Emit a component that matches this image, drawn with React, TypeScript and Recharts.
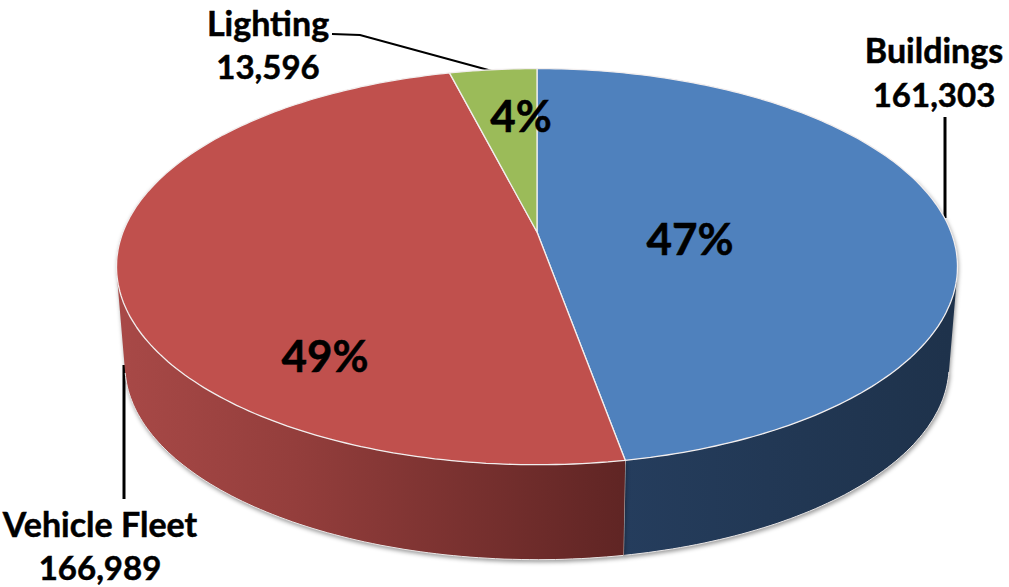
import { PieChart, Pie, Cell } from "recharts";

const CATEGORIES = ["Buildings", "Vehicle Fleet", "Lighting"];
const VALUES = [161303, 166989, 13596];
const TOP_COLORS = ["#4f81bd", "#c0504d", "#9bbb59"];
const SIDE_GRADIENTS = ["sideBlue", "sideRed", "sideGreen"];

// label placement, centre of the text
const NAME_POS = [
  { x: 934, y: 49, vy: 94 },
  { x: 100, y: 523, vy: 567 },
  { x: 268, y: 22, vy: 66 },
];
const PCT_POS = [
  { x: 690, y: 238 },
  { x: 325, y: 355 },
  { x: 521, y: 115 },
];

// tilted-disc projection
const RADIUS = 414;
const PERSPECTIVE = 0.175;
const FLATTEN = 192 / RADIUS;
const BOTTOM_SCALE = 0.98;
const DEPTH = 99.6;
const FONT = "Lato, sans-serif";

const data = CATEGORIES.map((name, i) => ({ name, value: VALUES[i] }));

function project(cx: number, cy: number, r: number, deg: number, scale = 1, drop = 0) {
  const t = (deg * Math.PI) / 180;
  const u = Math.sin(t);
  const v = -Math.cos(t);
  const w = 1 - PERSPECTIVE * v;
  return [cx + (scale * r * u) / w, cy + drop + (scale * r * FLATTEN * v) / w];
}

function angles(from: number, to: number) {
  const steps = Math.max(2, Math.ceil(Math.abs(to - from)));
  const out: number[] = [];
  for (let i = 0; i <= steps; i++) out.push(from + ((to - from) * i) / steps);
  return out;
}

const fmt = (p: number[]) => `${p[0].toFixed(1)} ${p[1].toFixed(1)}`;
const depthOf = (a: number) => -Math.cos((a * Math.PI) / 180);

function TopSlice(props: any) {
  const { cx, cy, outerRadius, startAngle, endAngle, fill } = props;
  const pts = angles(90 - startAngle, 90 - endAngle).map((a) => fmt(project(cx, cy, outerRadius, a)));
  return (
    <path
      d={`M${cx} ${cy}L${pts.join("L")}Z`}
      fill={fill}
      stroke="#f2eeee"
      strokeWidth={1.3}
      strokeLinejoin="round"
    />
  );
}

function SideSlice(props: any) {
  const { cx, cy, outerRadius, startAngle, endAngle, fill } = props;
  // only the front of the wall shows, the disc hides the rest
  const list = angles(90 - startAngle, 90 - endAngle).filter((a) => depthOf(a) > -0.3);
  if (list.length < 2) return <g />;
  let quads = "";
  for (let i = 0; i < list.length - 1; i++) {
    let q = [
      project(cx, cy, outerRadius, list[i]),
      project(cx, cy, outerRadius, list[i + 1]),
      project(cx, cy, outerRadius, list[i + 1], BOTTOM_SCALE, DEPTH),
      project(cx, cy, outerRadius, list[i], BOTTOM_SCALE, DEPTH),
    ];
    let area = 0;
    q.forEach((p, j) => {
      const n = q[(j + 1) % 4];
      area += p[0] * n[1] - n[0] * p[1];
    });
    if (area < 0) q = q.reverse();
    quads += `M${q.map(fmt).join("L")}Z`;
  }
  const edge = list
    .filter((a) => depthOf(a) > 0.2)
    .map((a) => fmt(project(cx, cy, outerRadius, a, BOTTOM_SCALE, DEPTH)));
  const last = list[list.length - 1];
  const seam = [fmt(project(cx, cy, outerRadius, last)), fmt(project(cx, cy, outerRadius, last, BOTTOM_SCALE, DEPTH))];
  return (
    <g style={{ filter: "drop-shadow(1px 2px 2px rgba(0,0,0,0.4))" }}>
      <path d={quads} fill={fill} />
      <path d={`M${edge.join("L")}`} fill="none" stroke="#e9e6e6" strokeWidth={1} />
      {depthOf(last) > 0 && <path d={`M${seam.join("L")}`} fill="none" stroke="#e9e6e6" strokeWidth={1.2} />}
    </g>
  );
}

function renderLabel(props: any) {
  const { index, name, value, percent } = props;
  const pos = NAME_POS[index];
  const pct = PCT_POS[index];
  return (
    <g key={name} fontFamily={FONT} fontWeight={700} fill="#000" stroke="#000" strokeWidth={0.5}>
      <text x={pos.x} y={pos.y} fontSize={34} dominantBaseline="central" textAnchor="middle">
        {name}
      </text>
      <text x={pos.x} y={pos.vy} fontSize={33} dominantBaseline="central" textAnchor="middle">
        {value.toLocaleString("en-US")}
      </text>
      <text x={pct.x} y={pct.y} fontSize={44} dominantBaseline="central" textAnchor="middle">
        {`${Math.round(percent * 100)}%`}
      </text>
    </g>
  );
}

export default function App() {
  return (
    <div style={{ position: "absolute", left: 0, top: 0, width: 1009, height: 587, background: "#fff" }}>
      <PieChart width={1009} height={587} margin={{ top: 0, right: 0, bottom: 0, left: 0 }}>
        <defs>
          <linearGradient id="sideRed" gradientUnits="userSpaceOnUse" x1={118} x2={622} y1={0} y2={0}>
            <stop offset="0" stopColor="#a84947" />
            <stop offset="0.35" stopColor="#943e3c" />
            <stop offset="1" stopColor="#602524" />
          </linearGradient>
          <linearGradient id="sideBlue" gradientUnits="userSpaceOnUse" x1={622} x2={950} y1={0} y2={0}>
            <stop offset="0" stopColor="#253d5d" />
            <stop offset="1" stopColor="#1e324b" />
          </linearGradient>
          <linearGradient id="sideGreen" gradientUnits="userSpaceOnUse" x1={440} x2={540} y1={0} y2={0}>
            <stop offset="0" stopColor="#6f8a3c" />
            <stop offset="1" stopColor="#6f8a3c" />
          </linearGradient>
        </defs>
        <Pie
          data={data}
          dataKey="value"
          cx={537}
          cy={232}
          outerRadius={RADIUS}
          startAngle={90}
          endAngle={-270}
          shape={SideSlice}
          label={false}
          isAnimationActive={false}
        >
          {data.map((d, i) => (
            <Cell key={d.name} fill={`url(#${SIDE_GRADIENTS[i]})`} />
          ))}
        </Pie>
        <Pie
          data={data}
          dataKey="value"
          cx={537}
          cy={232}
          outerRadius={RADIUS}
          startAngle={90}
          endAngle={-270}
          shape={TopSlice}
          label={renderLabel}
          labelLine={false}
          isAnimationActive={false}
        >
          {data.map((d, i) => (
            <Cell key={d.name} fill={TOP_COLORS[i]} />
          ))}
        </Pie>
        <polyline points="332,34 360,35 492,71" fill="none" stroke="#000" strokeWidth={2} />
        <line x1={945} y1={117} x2={945} y2={218} stroke="#000" strokeWidth={3} />
        <line x1={124} y1={365} x2={124} y2={499} stroke="#000" strokeWidth={3} />
      </PieChart>
    </div>
  );
}
